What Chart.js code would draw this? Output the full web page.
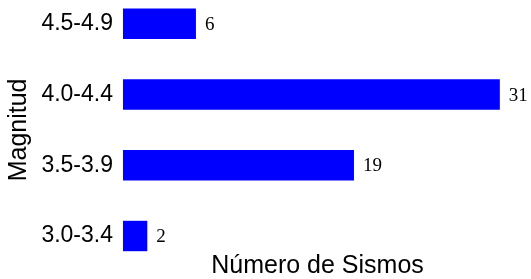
<!DOCTYPE html>
<html>
<head>
<meta charset="utf-8">
<script src="https://cdn.jsdelivr.net/npm/chart.js@4"></script>
<style>
    body { margin: 0; background: #ffffff; }
    canvas { display: block; }
</style>
</head>
<body>
<canvas id="sismosChart" width="531" height="279"></canvas>
<script>
const magnitudes = ['4.5-4.9', '4.0-4.4', '3.5-3.9', '3.0-3.4']
const sismos = [6, 31, 19, 2]
const xTitle = 'Número de Sismos'
const yTitle = 'Magnitud'

const valueLabels = {
    id: 'valueLabels',
    afterDatasetsDraw(chart) {
        const ctx = chart.ctx
        const meta = chart.getDatasetMeta(0)
        ctx.save()
        ctx.font = '19px "Liberation Serif", serif'
        ctx.fillStyle = '#000000'
        ctx.textAlign = 'left'
        ctx.textBaseline = 'middle'
        meta.data.forEach((bar, i) => {
            ctx.fillText(String(sismos[i]), bar.x + 9, bar.y + 1)
        })
        ctx.restore()
    },
}

new Chart(document.getElementById('sismosChart'), {
    type: 'bar',
    data: {
        labels: magnitudes,
        datasets: [{
            data: sismos,
            backgroundColor: '#0000ff',
            borderWidth: 0,
            categoryPercentage: 1,
            barPercentage: 0.43,
            clip: false,
        }],
    },
    options: {
        indexAxis: 'y',
        responsive: false,
        devicePixelRatio: 1,
        animation: false,
        layout: { padding: { top: 20.5, right: 19, left: 0, bottom: 0 } },
        plugins: {
            legend: { display: false },
            tooltip: { enabled: false },
        },
        scales: {
            x: {
                min: 0,
                max: 32,
                ticks: { display: false },
                grid: { display: false, drawTicks: false },
                border: { display: false },
                title: {
                    display: true,
                    text: xTitle,
                    color: '#000000',
                    font: { family: '"Liberation Sans", Arial, sans-serif', size: 25, lineHeight: 1 },
                    padding: { top: 0, bottom: 0 },
                },
                afterFit: scale => { scale.height = 43 },
            },
            y: {
                offset: false,
                ticks: {
                    color: '#000000',
                    padding: 10,
                    font: { family: '"Liberation Sans", Arial, sans-serif', size: 23 },
                },
                grid: { display: false, drawTicks: false },
                border: { display: false },
                title: {
                    display: true,
                    text: yTitle,
                    color: '#000000',
                    font: { family: '"Liberation Sans", Arial, sans-serif', size: 25, lineHeight: 1 },
                    padding: { top: 6.5, bottom: 0 },
                },
                afterFit: scale => { scale.width = 123 },
            },
        },
    },
    plugins: [valueLabels],
})
</script>
</body>
</html>
